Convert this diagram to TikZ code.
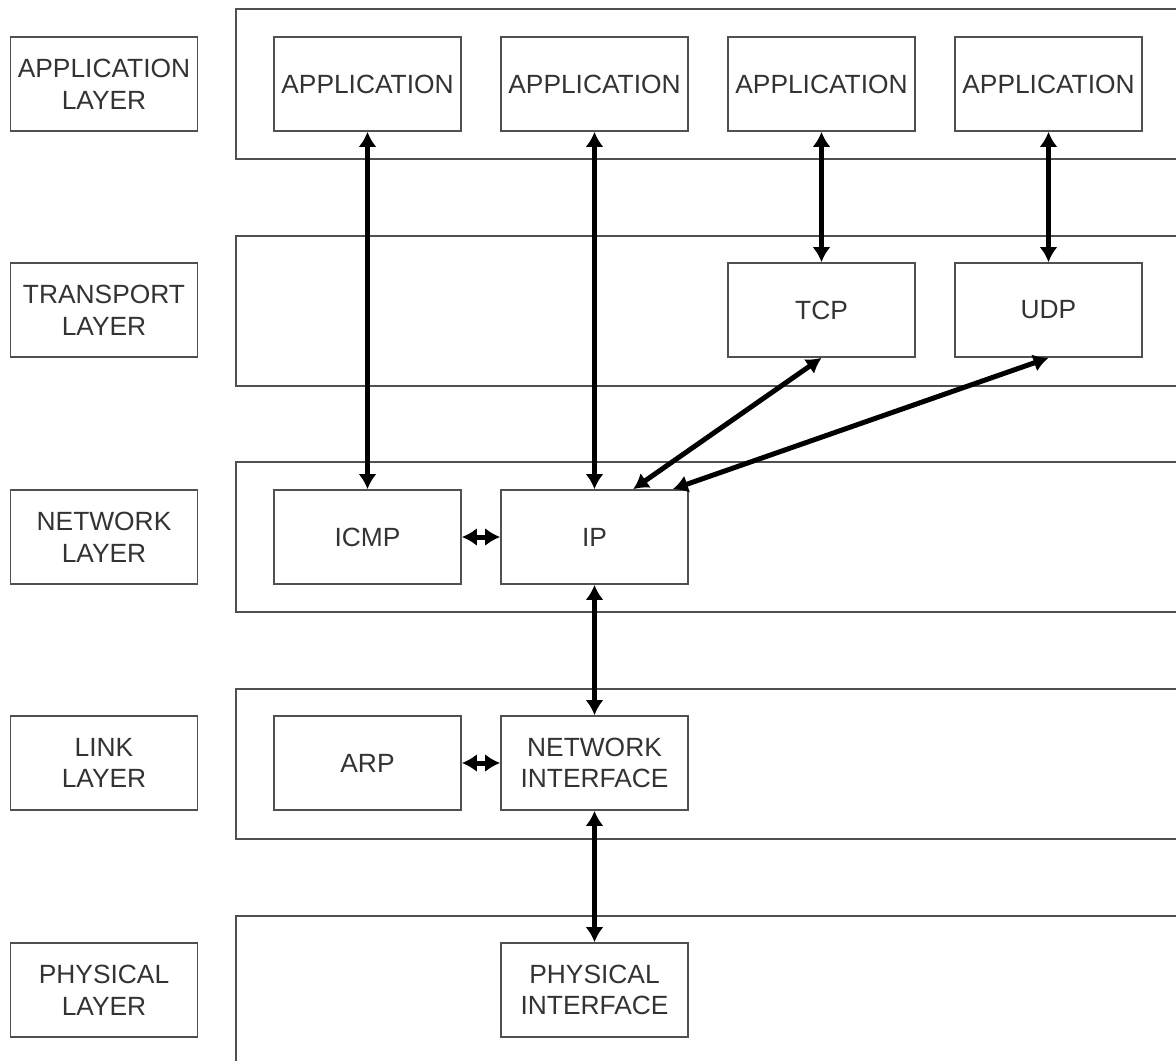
\documentclass[tikz,border=0pt]{standalone}
\usepackage{fontspec}
\setmainfont{Liberation Sans}
\usetikzlibrary{arrows.meta,calc}
\definecolor{boxgrey}{HTML}{505050}
\definecolor{textgrey}{HTML}{333333}
\begin{document}
\begin{tikzpicture}[x=0.02cm,y=-0.02cm,
  box node/.style={rectangle,draw=boxgrey,line width=1pt,text=textgrey,align=center,
    font=\fontsize{15}{18}\selectfont,minimum width=3.74cm,minimum height=1.88cm,inner sep=0pt},
  band/.style={draw=boxgrey,line width=1pt},
  link/.style={{Latex[length=3mm,width=3.6mm]}-{Latex[length=3mm,width=3.6mm]},line width=0.1cm,black}]

  \useasboundingbox (0,0) rectangle (1176,1061);
  \clip (0,0) rectangle (1176,1061);

  % layer bands, open to the right
  \foreach \t in {9,236,462,689,916}
    \draw[band] (236,\t) rectangle +(1000,150);

  % layer names
  \node[box node] (lapp) at (104,84) {APPLICATION\\LAYER};
  \node[box node] (ltrn) at (104,310) {TRANSPORT\\LAYER};
  \node[box node] (lnet) at (104,537) {NETWORK\\LAYER};
  \node[box node] (llnk) at (104,763) {LINK\\LAYER};
  \node[box node] (lphy) at (104,990) {PHYSICAL\\LAYER};

  % protocols
  \node[box node] (app1) at (367.5,84) {APPLICATION};
  \node[box node] (app2) at (594.5,84) {APPLICATION};
  \node[box node] (app3) at (821.5,84) {APPLICATION};
  \node[box node] (app4) at (1048.5,84) {APPLICATION};
  \node[box node] (tcp) at (821.5,310) {TCP};
  \node[box node] (udp) at (1048.5,310) {UDP};
  \node[box node] (icmp) at (367.5,537) {ICMP};
  \node[box node] (ip) at (594.5,537) {IP};
  \node[box node] (arp) at (367.5,763) {ARP};
  \node[box node] (nif) at (594.5,763) {NETWORK\\INTERFACE};
  \node[box node] (pif) at (594.5,990) {PHYSICAL\\INTERFACE};

  \path[link]
    (app1.south) edge (icmp.north)
    (app2.south) edge (ip.north)
    (app3.south) edge (tcp.north)
    (app4.south) edge (udp.north)
    (tcp.south) edge ($(ip.north)!0.41!(ip.north east)$)
    (udp.south) edge ($(ip.north)!0.83!(ip.north east)$)
    (icmp.east) edge (ip.west)
    (ip.south) edge (nif.north)
    (arp.east) edge (nif.west)
    (nif.south) edge (pif.north);
\end{tikzpicture}
\end{document}
